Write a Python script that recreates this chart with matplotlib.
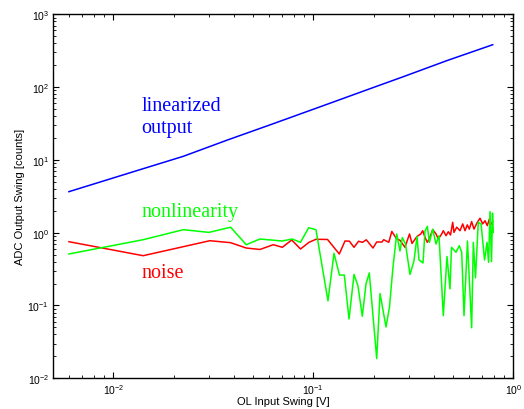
import matplotlib
matplotlib.use("Agg")
import matplotlib.pyplot as plt
from matplotlib.ticker import LogLocator, LogFormatterSciNotation, NullFormatter

# ---- data ----
lin_x = [0.0060, 0.0141, 0.0224, 0.0369, 0.0608, 0.112, 0.2075, 0.282, 0.4645, 0.789]
lin_y = [3.66, 7.57, 11.2, 18.6, 30.3, 55.5, 102.6, 139, 230.5, 382]

nl_x = [0.00600, 0.0141, 0.0224, 0.0301, 0.0386, 0.0462, 0.0541, 0.0700, 0.0784, 0.0863,
        0.0948, 0.1031, 0.1184, 0.1269, 0.1352, 0.1429, 0.1509, 0.1598, 0.1673, 0.1758,
        0.1834, 0.1905, 0.2075, 0.2156, 0.2310, 0.2404, 0.2497, 0.2612, 0.2713, 0.2786,
        0.2891, 0.3044, 0.3188, 0.330, 0.3377, 0.3536, 0.3618, 0.3715, 0.381, 0.3954,
        0.4107, 0.4251, 0.4467, 0.4661, 0.4825, 0.4909, 0.517, 0.537, 0.552, 0.567,
        0.590, 0.619, 0.631, 0.647, 0.668, 0.690, 0.718, 0.739, 0.752, 0.765,
        0.778, 0.787, 0.794]
nl_y = [0.510, 0.801, 1.10, 1.01, 1.19, 0.684, 0.819, 0.769, 0.819, 0.738,
        1.17, 1.10, 0.116, 0.521, 0.262, 0.262, 0.0653, 0.267, 0.185, 0.0711,
        0.197, 0.280, 0.0187, 0.146, 0.0507, 0.0954, 0.317, 0.960, 0.561, 0.854,
        0.699, 0.267, 0.412, 0.887, 0.422, 0.384, 1.055, 1.22, 0.738, 1.12,
        0.699, 0.909, 0.0724, 0.471, 0.169, 0.630, 0.538, 0.663, 0.538, 0.0724,
        0.769, 0.0494, 0.738, 0.240, 1.39, 1.32, 0.422, 0.738, 0.392, 1.95,
        0.400, 1.86, 1.01]

noise_x = [0.00600, 0.0141, 0.0304, 0.0386, 0.0462, 0.0541, 0.0631, 0.0700, 0.0780, 0.0863,
           0.0952, 0.1031, 0.1178, 0.1349, 0.1440, 0.1514, 0.1598, 0.1683, 0.1762, 0.1841,
           0.1988, 0.2075, 0.2206, 0.2249, 0.2384, 0.2469, 0.2612, 0.2713, 0.2873, 0.3027,
           0.3115, 0.330, 0.3443, 0.3524, 0.3618, 0.3715, 0.380, 0.3954, 0.4107, 0.4217,
           0.4385, 0.4467, 0.4608, 0.4732, 0.4853, 0.4977, 0.505, 0.5212, 0.5414, 0.5585,
           0.5735, 0.5888, 0.6026, 0.619, 0.636, 0.658, 0.6815, 0.703, 0.722, 0.741,
           0.759, 0.771, 0.789]
noise_y = [0.752, 0.483, 0.776, 0.729, 0.616, 0.588, 0.684, 0.630, 0.794, 0.597,
           0.738, 0.812, 0.807, 0.510, 0.769, 0.765, 0.630, 0.762, 0.738, 0.799,
           0.616, 0.745, 0.745, 0.801, 0.738, 1.04, 0.819, 0.787, 0.630, 0.960,
           0.711, 0.887, 0.960, 1.065, 0.865, 0.738, 0.819, 1.10, 0.960, 0.819,
           0.960, 1.065, 0.909, 1.03, 0.930, 1.39, 1.01, 1.19, 1.065, 1.32,
           1.065, 1.28, 1.12, 1.42, 1.12, 1.36, 1.58, 1.32, 1.46, 1.25,
           1.54, 1.28, 1.42]

xlabel = "OL Input Swing [V]"
ylabel = "ADC Output Swing [counts]"

# ---- styling ----
plt.rcParams['font.family'] = ['Liberation Sans', 'DejaVu Sans']
plt.rcParams['mathtext.fontset'] = 'custom'
plt.rcParams['mathtext.rm'] = 'Liberation Sans'
plt.rcParams['mathtext.it'] = 'Liberation Sans:italic'
plt.rcParams['mathtext.bf'] = 'Liberation Sans:bold'
plt.rcParams['axes.unicode_minus'] = False

fig = plt.figure(figsize=(5.24, 4.10), dpi=100)
ax = fig.add_axes([0.1017, 0.0749, 0.8779, 0.8878])

ax.plot(lin_x, lin_y, color=(0, 0, 1), lw=1.1)
ax.plot(noise_x, noise_y, color=(1, 0, 0), lw=1.1)
ax.plot(nl_x, nl_y, color=(0, 1, 0), lw=1.1)

ax.set_xscale('log')
ax.set_yscale('log')
ax.set_xlim(10**-2.3, 1)
ax.set_ylim(1e-2, 1e3)

ax.xaxis.set_major_locator(LogLocator(base=10, numticks=10))
ax.yaxis.set_major_locator(LogLocator(base=10, numticks=10))
ax.xaxis.set_minor_locator(LogLocator(base=10, subs=range(2, 10), numticks=20))
ax.yaxis.set_minor_locator(LogLocator(base=10, subs=range(2, 10), numticks=20))
ax.xaxis.set_major_formatter(LogFormatterSciNotation())
ax.yaxis.set_major_formatter(LogFormatterSciNotation())
ax.xaxis.set_minor_formatter(NullFormatter())
ax.yaxis.set_minor_formatter(NullFormatter())

ax.tick_params(which='both', direction='in', top=True, right=True, labelsize=7.5, pad=3)
ax.tick_params(which='major', length=4, width=0.8)
ax.tick_params(which='minor', length=2, width=0.6)
for s in ax.spines.values():
    s.set_linewidth(1.0)

ax.set_xlabel(xlabel, fontsize=8, labelpad=0)
ax.set_ylabel(ylabel, fontsize=8, labelpad=2)

serif = ['Liberation Serif', 'DejaVu Serif']
ax.text(0.01387, 48.5, "linearized", color=(0, 0, 1), fontsize=14.5, family=serif, va='baseline')
ax.text(0.01387, 24.2, "output", color=(0, 0, 1), fontsize=14.5, family=serif, va='baseline')
ax.text(0.01387, 1.71, "nonlinearity", color=(0, 1, 0), fontsize=14.5, family=serif, va='baseline')
ax.text(0.01387, 0.244, "noise", color=(1, 0, 0), fontsize=14.5, family=serif, va='baseline')

fig.savefig("out.png", dpi=100)
